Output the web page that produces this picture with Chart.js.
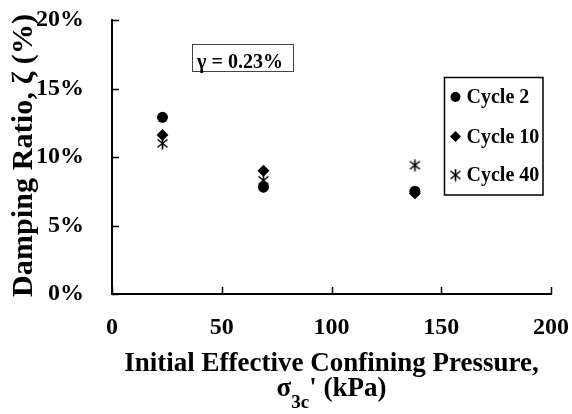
<!DOCTYPE html>
<html><head><meta charset="utf-8">
<script src="https://cdn.jsdelivr.net/npm/chart.js@4/dist/chart.umd.min.js"></script>
<style>html,body{margin:0;padding:0;background:#fff}canvas{display:block}</style>
</head><body>
<canvas id="c" width="572" height="414"></canvas>
<script>
// ---- data ----
const pressure = [23, 69, 138];            // kPa
const cycle2  = [12.9, 7.8, 7.5];          // %
const cycle10 = [11.6, 9.0, 7.35];         // %
const cycle40 = [11.0, 8.3, 9.4];          // %
const seriesNames = ['Cycle 2', 'Cycle 10', 'Cycle 40'];
const xTickValues = [0, 50, 100, 150, 200];
const yTickValues = [0, 5, 10, 15, 20];
const annotationText = 'γ = 0.23%';
const xTitleLine1 = 'Initial Effective Confining Pressure,';
const yTitle = 'Damping Ratio, ζ (%)';

const FONT = "'Liberation Serif', 'Times New Roman', serif";

// asterisk marker (X plus vertical bar)
function makeStar() {
  const c = document.createElement('canvas');
  c.width = 13; c.height = 13;
  const g = c.getContext('2d');
  g.strokeStyle = '#000'; g.lineWidth = 1.6;
  g.beginPath();
  g.moveTo(6.5, 0.5); g.lineTo(6.5, 12.5);
  g.moveTo(1.5, 2.5); g.lineTo(11.5, 10.5);
  g.moveTo(11.5, 2.5); g.lineTo(1.5, 10.5);
  g.stroke();
  return c;
}
const starImg = makeStar();

function pts(ys) { return pressure.map((x, i) => ({x: x, y: ys[i]})); }

const datasets = [
  {label: seriesNames[0], data: pts(cycle2),  pointStyle: 'circle',  radius: 5.5, backgroundColor: '#000', borderColor: '#000', borderWidth: 0, order: 1},
  {label: seriesNames[1], data: pts(cycle10), pointStyle: 'rectRot', radius: 6,   backgroundColor: '#000', borderColor: '#000', borderWidth: 0, order: 2},
  {label: seriesNames[2], data: pts(cycle40), pointStyle: starImg,   radius: 6,   backgroundColor: '#000', borderColor: '#000', borderWidth: 0, order: 3}
];

function drawMarker(ctx, style, x, y, r) {
  ctx.save();
  ctx.fillStyle = '#000';
  if (style === 'circle') {
    ctx.beginPath(); ctx.arc(x, y, r, 0, Math.PI * 2); ctx.fill();
  } else if (style === 'rectRot') {
    ctx.beginPath(); ctx.moveTo(x, y - r); ctx.lineTo(x + r, y); ctx.lineTo(x, y + r); ctx.lineTo(x - r, y); ctx.closePath(); ctx.fill();
  } else {
    ctx.drawImage(style, x - style.width / 2, y - style.height / 2);
  }
  ctx.restore();
}

function zeroPad(s) { s.paddingTop = 0; s.paddingBottom = 0; s.paddingLeft = 0; s.paddingRight = 0; }

// draw text spread to a given total length
function fillSpread(ctx, text, x, y, total) {
  const natural = ctx.measureText(text).width;
  const extra = Math.max((total - natural) / Math.max(text.length - 1, 1), 0);
  if ('letterSpacing' in ctx) {
    ctx.letterSpacing = extra + 'px';
    ctx.fillText(text, x, y);
    ctx.letterSpacing = '0px';
  } else {
    let px = x;
    for (const ch of text) { ctx.fillText(ch, px, y); px += ctx.measureText(ch).width + extra; }
  }
}

const decorPlugin = {
  id: 'decor',
  afterDraw(chart) {
    const ctx = chart.ctx;
    const xs = chart.scales.x, ys = chart.scales.y;
    const ca = chart.chartArea;
    ctx.save();
    // inward tick marks
    ctx.strokeStyle = '#000'; ctx.lineWidth = 1.5;
    ctx.beginPath();
    yTickValues.forEach(v => { const p = Math.round(ys.getPixelForValue(v)) + 0.5; ctx.moveTo(ca.left, p); ctx.lineTo(ca.left + 7, p); });
    xTickValues.forEach(v => { const p = Math.round(xs.getPixelForValue(v)) + 0.5; ctx.moveTo(p, ca.bottom); ctx.lineTo(p, ca.bottom - 7); });
    ctx.stroke();

    // annotation box
    ctx.font = 'bold 20px ' + FONT;
    ctx.fillStyle = '#000';
    ctx.textAlign = 'center'; ctx.textBaseline = 'alphabetic';
    ctx.strokeStyle = '#444'; ctx.lineWidth = 1;
    ctx.strokeRect(192.5, 44.5, 101, 27);
    ctx.fillText(annotationText, 240, 67.5);

    // legend
    ctx.strokeStyle = '#000'; ctx.lineWidth = 1.5;
    ctx.strokeRect(444.5, 77.5, 98.5, 117.5);
    const rowsY = [97, 136.5, 175];
    const styles = ['circle', 'rectRot', starImg];
    const sizes = [5, 5.5, 0];
    ctx.textAlign = 'left'; ctx.textBaseline = 'middle';
    ctx.font = 'bold 20px ' + FONT;
    seriesNames.forEach((n, i) => {
      drawMarker(ctx, styles[i], 455.5, rowsY[i], sizes[i]);
      ctx.fillStyle = '#000';
      ctx.fillText(n, 466.5, rowsY[i] + 1);
    });

    // x title
    const cx = (ca.left + ca.right) / 2;
    ctx.textBaseline = 'alphabetic'; ctx.textAlign = 'center';
    ctx.font = 'bold 27px ' + FONT;
    ctx.fillText(xTitleLine1, cx, 370.5);
    // second line: σ_3c' (kPa)
    const fMain = 'bold 27px ' + FONT, fSub = 'bold 19px ' + FONT;
    ctx.font = fMain; const w1 = ctx.measureText('σ').width;
    ctx.font = fSub;  const w2 = ctx.measureText('3c').width;
    ctx.font = fMain; const w3 = ctx.measureText("' (kPa)").width;
    let sx = cx - (w1 + w2 + w3) / 2;
    ctx.textAlign = 'left';
    ctx.font = fMain; ctx.fillText('σ', sx, 396); sx += w1;
    ctx.font = fSub;  ctx.fillText('3c', sx, 408); sx += w2;
    ctx.font = fMain; ctx.fillText("' (kPa)", sx, 396);

    // y title (rotated), reading bottom to top; rotated x = -screenY
    ctx.save();
    ctx.translate(32, 0);
    ctx.rotate(-Math.PI / 2);
    ctx.textBaseline = 'alphabetic';
    ctx.textAlign = 'left';
    ctx.font = 'bold 30px ' + FONT;
    fillSpread(ctx, yTitle, -297, 0, 283);
    ctx.restore();

    ctx.restore();
  }
};

new Chart(document.getElementById('c'), {
  type: 'scatter',
  data: {datasets},
  options: {
    responsive: false,
    animation: false,
    layout: {padding: {left: 0, right: 21, top: 20, bottom: 0}},
    plugins: {legend: {display: false}, tooltip: {enabled: false}},
    scales: {
      x: {
        type: 'linear', min: 0, max: 200,
        afterBuildTicks: s => { s.ticks = xTickValues.map(v => ({value: v})); },
        afterFit: s => { s.height = 120; zeroPad(s); },
        grid: {display: false, drawTicks: false},
        border: {display: true, color: '#000', width: 2},
        ticks: {color: '#000', padding: 19, font: {family: FONT, size: 24, weight: 'bold'}, maxRotation: 0}
      },
      y: {
        type: 'linear', min: 0, max: 20,
        afterBuildTicks: s => { s.ticks = yTickValues.map(v => ({value: v})); },
        afterFit: s => { s.width = 112; zeroPad(s); },
        grid: {display: false, drawTicks: false},
        border: {display: true, color: '#000', width: 2},
        ticks: {color: '#000', padding: 28, font: {family: FONT, size: 24, weight: 'bold'}, callback: v => v + '%'}
      }
    }
  },
  plugins: [decorPlugin]
});
</script>
</body></html>
